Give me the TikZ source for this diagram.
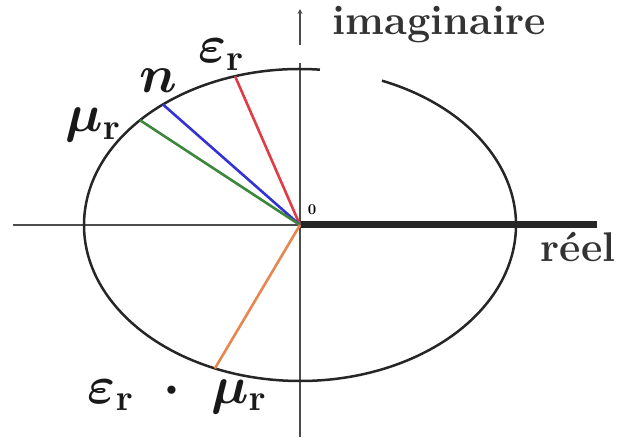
\RequirePackage{fix-cm}
\documentclass[tikz,border=0pt]{standalone}
\usepackage{fontspec}
\usetikzlibrary{arrows.meta}
\begin{document}
\begin{tikzpicture}[x=1pt,y=1pt,
  axis/.style={line width=2.2pt, draw=black!70},
  ell/.style={line width=2.5pt, draw=black!85},
  ray/.style={line width=2.6pt},
  mlab/.style={font=\fontsize{53}{60}\selectfont\boldmath, text=black!90, inner sep=0pt, anchor=base},
  tlab/.style={font=\fontsize{41.5}{44}\selectfont\bfseries, text=black!80, inner sep=0pt, anchor=base}]
\useasboundingbox (0,0) rectangle (620,439);
\coordinate (O) at (300,214);
\coordinate (L) at (13,214);
\coordinate (R) at (597,214);
\coordinate (B) at (300,2);
\coordinate (V) at (300,376);
\coordinate (T1) at (300,394);
\coordinate (T2) at (300,430);
\path (O) ++(107.5:216 and 156) coordinate (Er);
\path (O) ++(129.4:216 and 156) coordinate (Nn);
\path (O) ++(137.8:216 and 156) coordinate (Mu);
\path (O) ++(246.8:216 and 156) coordinate (EM);
\path (O) ++(84.7:216 and 156) coordinate (S);
% axes
\draw[axis] (L) -- (O);
\draw[line width=7pt, draw=black!85] (O) -- (R);
\draw[axis] (B) -- (V);
\draw[axis, -{Stealth[length=5pt,width=5pt]}] (T1) -- (T2);
% ellipse with gap
\draw[ell] (S) arc[start angle=84.7, end angle=427.7, x radius=216, y radius=156];
% rays
\draw[ray, draw={rgb,255:red,225;green,60;blue,70}] (O) -- (Er);
\draw[ray, draw={rgb,255:red,50;green,50;blue,215}] (O) -- (Nn);
\draw[ray, draw={rgb,255:red,60;green,135;blue,60}] (O) -- (Mu);
\draw[ray, draw={rgb,255:red,230;green,135;blue,80}] (O) -- (EM);
% labels
\node[mlab] (le) at (221,376) {$\varepsilon_{\mathbf r}$};
\node[mlab] (ln) at (158,346) {$n$};
\node[mlab] (lm) at (93,307) {$\mu_{\mathbf r}$};
\node[mlab] (lem) at (177,36) {$\varepsilon_{\mathbf r}\;\cdot\;\mu_{\mathbf r}$};
\node[tlab] (li) at (439,404) {imaginaire};
\node[tlab] (lr) at (578,177) {réel};
\node[font=\fontsize{15}{16}\selectfont\bfseries, inner sep=0pt] (lo) at (312,229) {0};
\end{tikzpicture}
\end{document}
